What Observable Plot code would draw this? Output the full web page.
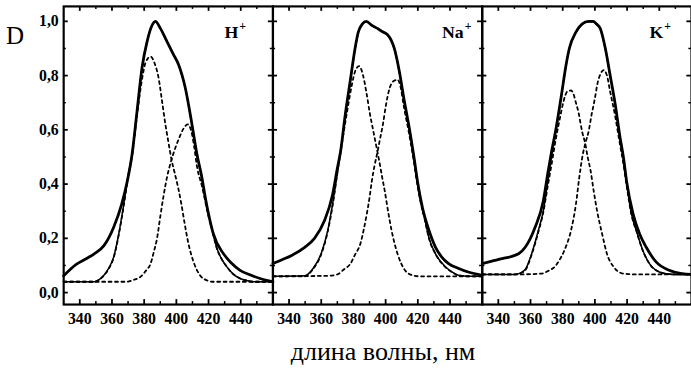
<!DOCTYPE html>
<html><head><meta charset="utf-8">
<script src="https://cdn.jsdelivr.net/npm/d3@7"></script>
<script src="https://cdn.jsdelivr.net/npm/@observablehq/plot@0.6"></script>
<style>
html,body{margin:0;padding:0;background:#fff;overflow:hidden;width:691px;height:368px}
#wrap{position:relative;width:691px;height:368px;overflow:hidden}
#chart{position:absolute;left:0;top:0}
#chart svg, #chart svg text{font-family:"Liberation Serif",serif !important}
.ylab{position:absolute;left:6px;top:23px;font:25px/25px "Liberation Serif",serif;color:#000}
.xlab{position:absolute;left:383px;top:339px;transform:translateX(-50%);font:26px/26px "Liberation Serif",serif;white-space:nowrap;color:#000}
</style></head><body>
<div id="wrap"><div id="chart"></div><div class="ylab">D</div><div class="xlab">длина волны, нм</div></div>
<script>
// ---- data: [wavelength nm, D] ----
const ions = ["H", "Na", "K"];
const xTickLabels = [340, 360, 380, 400, 420, 440];
const xMajor = [340, 360, 380, 400, 420, 440];
const xMinor = [350, 370, 390, 410, 430, 450];
const yMajor = [0, 0.2, 0.4, 0.6, 0.8, 1.0];
const yMinor = [0.1, 0.3, 0.5, 0.7, 0.9];

const hExp = [[330,0.062],[338,0.105],[344,0.125],[349,0.143],[355,0.173],[361,0.24],[366,0.325],[369.5,0.41],[372.5,0.51],[375.6,0.67],[378.7,0.83],[381.8,0.925],[384.5,0.98],[387,1.0],[390,0.975],[394.2,0.925],[398,0.88],[401.4,0.84],[405.5,0.756],[409.7,0.62],[412.8,0.51],[416,0.42],[418,0.35],[420,0.29],[423,0.216],[429.3,0.143],[434,0.11],[439.6,0.082],[446,0.065],[452,0.052],[460,0.04]];
const hFit = [[330,0.04],[349,0.04],[352,0.048],[355,0.064],[358,0.09],[361,0.13],[364.2,0.216],[367.3,0.325],[370,0.43],[372.5,0.51],[375.6,0.669],[378.7,0.829],[381.8,0.924],[384.5,0.979],[387,0.999],[390,0.974],[394.2,0.924],[398,0.879],[401.4,0.839],[405.5,0.755],[409.7,0.619],[412.8,0.509],[416,0.418],[418,0.347],[420,0.286],[422,0.24],[425,0.167],[428,0.125],[431.4,0.095],[435,0.07],[439.6,0.052],[444,0.044],[448,0.04],[460,0.04]];
const hBand1 = [[330,0.04],[349,0.04],[352,0.047],[355,0.063],[358,0.088],[361,0.128],[364.2,0.212],[367.3,0.32],[370,0.425],[372.5,0.505],[375.6,0.655],[378.5,0.78],[381,0.85],[384,0.87],[386.5,0.845],[389,0.79],[391,0.71],[393.2,0.62],[395.2,0.55],[397,0.49],[399,0.44],[401,0.39],[403,0.33],[405,0.26],[407,0.195],[409,0.145],[411.5,0.1],[414.8,0.063],[419,0.045],[423,0.04],[460,0.04]];
const hBand2 = [[330,0.04],[369,0.04],[374,0.048],[377.7,0.058],[381,0.08],[384,0.107],[386,0.15],[388,0.2],[390,0.28],[392,0.355],[394,0.42],[396.5,0.48],[398.3,0.515],[401.4,0.565],[404.5,0.605],[407,0.62],[409.5,0.59],[411,0.54],[412.8,0.465],[416,0.39],[418,0.335],[420,0.28],[422,0.235],[425,0.165],[428,0.125],[431.4,0.095],[435,0.07],[439.6,0.052],[444,0.044],[448,0.04],[460,0.04]];

const naExp = [[330,0.107],[336,0.122],[341.6,0.137],[349.7,0.167],[355.8,0.2],[361.9,0.264],[367,0.36],[370,0.458],[372,0.52],[375,0.66],[378,0.78],[381,0.9],[383,0.96],[385.5,0.99],[388,1.0],[391.5,0.985],[395.2,0.973],[398,0.962],[401.3,0.95],[403.5,0.93],[405.4,0.9],[408.5,0.816],[411.5,0.71],[414.6,0.61],[417.6,0.5],[419.8,0.41],[422.9,0.313],[427,0.228],[431,0.167],[435,0.13],[439.1,0.107],[445,0.09],[451.3,0.076],[460,0.064]];
const naFit = [[330,0.06],[349.7,0.062],[354.8,0.088],[359.9,0.143],[364,0.228],[367,0.325],[369,0.4],[371,0.48],[373,0.56],[375,0.658],[378,0.778],[381,0.898],[383,0.958],[385.5,0.988],[388,0.998],[391.5,0.983],[395.2,0.971],[398,0.96],[401.3,0.948],[403.5,0.928],[405.4,0.898],[408.5,0.814],[411.5,0.708],[414.6,0.608],[417.6,0.498],[419.8,0.406],[422,0.33],[424,0.28],[427,0.2],[431,0.143],[437.1,0.095],[441,0.077],[445.2,0.064],[452,0.06],[460,0.06]];
const naBand1 = [[330,0.06],[349.7,0.06],[354.8,0.086],[359.9,0.14],[364,0.224],[367,0.318],[370,0.44],[373,0.555],[376,0.665],[379,0.765],[381,0.815],[383.5,0.835],[386,0.8],[388,0.74],[390.2,0.66],[392.2,0.6],[394.2,0.54],[396.5,0.47],[398,0.42],[399.5,0.373],[401.5,0.3],[403.5,0.235],[405.6,0.18],[409.7,0.107],[414.8,0.068],[420.9,0.06],[460,0.06]];
const naBand2 = [[330,0.06],[365,0.062],[370,0.067],[374,0.085],[378.2,0.107],[381,0.14],[384.3,0.18],[386.5,0.235],[388.3,0.29],[390,0.35],[391.4,0.41],[393,0.465],[395,0.52],[396.3,0.56],[398.3,0.62],[400.3,0.695],[402.4,0.752],[405,0.78],[407.4,0.785],[409,0.765],[411.5,0.68],[414.6,0.585],[417.6,0.48],[419.8,0.395],[422,0.325],[424,0.277],[427,0.198],[431,0.142],[437.1,0.094],[441,0.076],[445.2,0.064],[452,0.06],[460,0.06]];

const kExp = [[330,0.107],[336,0.116],[342.4,0.125],[352.6,0.143],[356.7,0.167],[362.8,0.24],[367.9,0.337],[370.9,0.446],[373.1,0.52],[376,0.61],[379,0.72],[382.1,0.84],[384.1,0.9],[388.2,0.96],[392,0.99],[396,1.0],[399,1.0],[401,0.99],[403.4,0.973],[406.5,0.9],[409.5,0.8],[412.6,0.695],[415.6,0.573],[417.7,0.5],[419.7,0.41],[423.7,0.29],[427.8,0.216],[431.9,0.167],[438,0.113],[446.1,0.082],[454.3,0.07],[460,0.067]];
const kFit = [[330,0.067],[350.6,0.067],[353.5,0.072],[356.7,0.085],[360.7,0.143],[364.8,0.228],[367.9,0.3],[370.5,0.4],[373,0.5],[376,0.605],[379,0.718],[382.1,0.838],[384.1,0.898],[388.2,0.958],[392,0.988],[396,0.998],[399,0.998],[401,0.988],[403.4,0.971],[406.5,0.898],[409.5,0.798],[412.6,0.693],[415.6,0.571],[417.7,0.497],[419.7,0.405],[422.7,0.29],[425.8,0.228],[429.8,0.155],[433.9,0.107],[440,0.076],[445,0.069],[450,0.067],[460,0.067]];
const kBand1 = [[330,0.067],[350.6,0.067],[353.5,0.071],[356.7,0.082],[360.7,0.14],[364.8,0.222],[367.9,0.295],[370.5,0.385],[373,0.47],[376,0.575],[378.5,0.65],[380.5,0.705],[383,0.742],[385,0.745],[386.5,0.735],[388.2,0.7],[389.8,0.665],[391.2,0.62],[392.2,0.59],[393.8,0.555],[395.5,0.5],[397.3,0.45],[399.3,0.373],[401.4,0.3],[404.5,0.216],[407.5,0.143],[411.6,0.095],[417.7,0.07],[425,0.067],[460,0.067]];
const kBand2 = [[330,0.067],[350.6,0.067],[366.8,0.07],[371,0.08],[375,0.095],[378,0.12],[381,0.155],[385.1,0.228],[388.2,0.325],[390.2,0.42],[392.5,0.51],[394.3,0.555],[396.3,0.6],[397.9,0.655],[399.3,0.695],[400.4,0.73],[401.4,0.765],[403.4,0.805],[405.5,0.82],[407.5,0.8],[409.5,0.74],[412.6,0.65],[415.6,0.545],[417.7,0.475],[419.7,0.395],[422.7,0.287],[425.8,0.226],[429.8,0.154],[433.9,0.106],[440,0.076],[445,0.069],[450,0.067],[460,0.067]];

const ionLabels = [{ion: "H", name: "H"}, {ion: "Na", name: "Na"}, {ion: "K", name: "K"}];

// ---- build table ----
const rows = [];
function add(ion, curve, pts) { for (const [nm, d] of pts) rows.push({ion, curve, nm, d}); }
add("H", "exp", hExp); add("H", "fit", hFit); add("H", "b1", hBand1); add("H", "b2", hBand2);
add("Na", "exp", naExp); add("Na", "fit", naFit); add("Na", "b1", naBand1); add("Na", "b2", naBand2);
add("K", "exp", kExp); add("K", "fit", kFit); add("K", "b1", kBand1); add("K", "b2", kBand2);

const W = 700, H = 335, mL = 63, mR = 0, mT = 6, mB = 27;
const fw = (W - mL - mR) / 3, fh = H - mT - mB;
const labelEnd = {H: 438.5, Na: 448.5, K: 442.5};
const curveOf = (c) => rows.filter(r => c.includes(r.curve));
const serif = '"Liberation Serif", serif';

const chart = Plot.plot({
  width: W, height: H,
  marginLeft: mL, marginRight: mR, marginTop: mT, marginBottom: mB,
  style: {fontFamily: serif, fontSize: "15px", fontWeight: "bold", background: "#fff", color: "#000", overflow: "visible"},
  fx: {domain: ions, axis: null, padding: 0},
  x: {domain: [330, 460]},
  y: {domain: [-0.044, 1.055]},
  marks: [
    Plot.line(curveOf(["b1", "b2"]), {x: "nm", y: "d", fx: "ion", z: "curve", stroke: "#000", strokeWidth: 1.8, strokeDasharray: "3,3.5", curve: "monotone-x"}),
    Plot.line(curveOf(["fit"]), {x: "nm", y: "d", fx: "ion", stroke: "#000", strokeWidth: 1.5, curve: "monotone-x"}),
    Plot.line(curveOf(["exp"]), {x: "nm", y: "d", fx: "ion", stroke: "#000", strokeWidth: 2.8, curve: "monotone-x"}),
    Plot.frame({stroke: "#000", strokeWidth: 2.2}),
    Plot.tickX(xMajor, {x: d => d, insetTop: fh - 5, strokeWidth: 1.8}),
    Plot.tickX(xMajor, {x: d => d, insetBottom: fh - 5, strokeWidth: 1.8}),
    Plot.tickX(xMinor, {x: d => d, insetTop: fh - 3, strokeWidth: 1.5}),
    Plot.tickX(xMinor, {x: d => d, insetBottom: fh - 3, strokeWidth: 1.5}),
    Plot.tickY(yMajor, {y: d => d, insetRight: fw - 5, strokeWidth: 1.8}),
    Plot.tickY(yMajor, {y: d => d, insetLeft: fw - 5, strokeWidth: 1.8}),
    Plot.tickY(yMinor, {y: d => d, insetRight: fw - 3, strokeWidth: 1.5}),
    Plot.tickY(yMinor, {y: d => d, insetLeft: fw - 3, strokeWidth: 1.5}),
    Plot.axisX({ticks: xTickLabels, tickSize: 0, tickPadding: 8, tickFormat: d => String(d), label: null, fontSize: 16, fontFamily: serif, fontWeight: "bold"}),
    Plot.axisY({ticks: yMajor, tickSize: 0, tickPadding: 5, tickFormat: d => d.toFixed(1).replace(".", ","), label: null, fontSize: 16, fontFamily: serif, fontWeight: "bold"}),
    Plot.text(ionLabels, {fx: "ion", x: d => labelEnd[d.ion], y: 0.958, text: "name", textAnchor: "end", fontSize: 18, fontFamily: serif, fontWeight: "bold"}),
    Plot.text(ionLabels, {fx: "ion", x: d => labelEnd[d.ion], y: 0.982, text: () => "+", textAnchor: "start", dx: 1, fontSize: 12, fontFamily: serif, fontWeight: "bold"})
  ]
});
document.getElementById("chart").appendChild(chart);
</script>
</body></html>
